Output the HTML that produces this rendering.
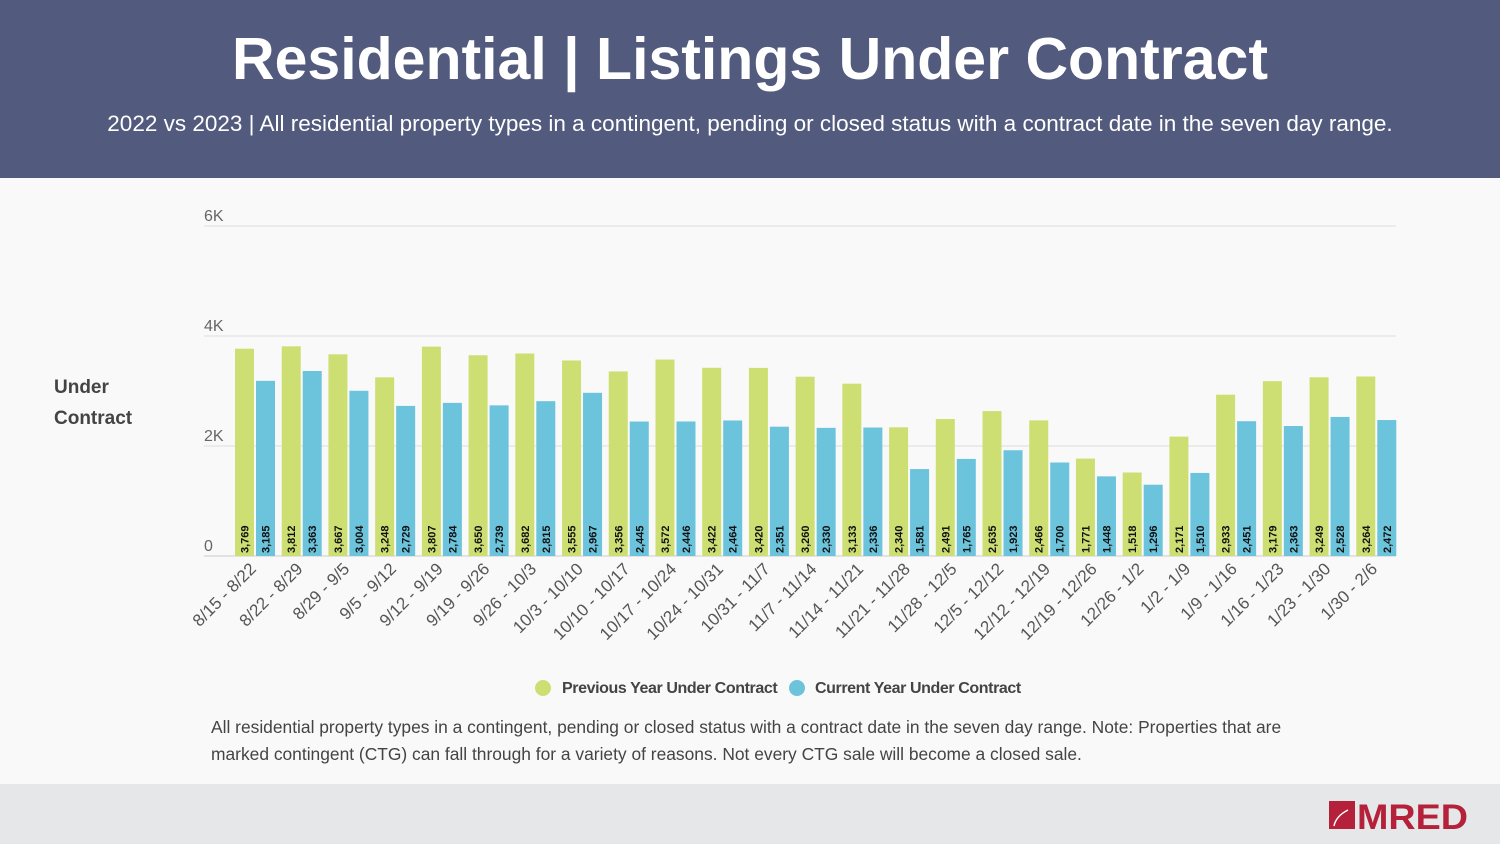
<!DOCTYPE html>
<html><head><meta charset="utf-8"><style>
body{margin:0;width:1500px;height:844px;overflow:hidden;font-family:"Liberation Sans",sans-serif;background:#f9f9f9;position:relative}
#hdr{position:absolute;left:0;top:0;width:1500px;height:178px;background:#525a7d;color:#fff;text-align:center}
#hdr h1{margin:0;position:absolute;top:25px;width:100%;font-size:59px;font-weight:bold}
#hdr p{margin:0;position:absolute;top:111px;width:100%;font-size:22.5px}
#ftr{position:absolute;left:0;top:784px;width:1500px;height:60px;background:#e6e7e8}
#note{position:absolute;left:211px;top:714px;width:1100px;font-size:17.4px;line-height:27px;color:#444}
#ylab{position:absolute;left:54px;top:372px;font-size:19px;font-weight:bold;color:#444;line-height:31px}
</style></head><body>
<div id="hdr">
<h1>Residential | Listings Under Contract</h1>
<p>2022 vs 2023 | All residential property types in a contingent, pending or closed status with a contract date in the seven day range.</p></div>
<div id="ylab">Under<br>Contract</div>
<svg id="chart" width="1500" height="844" style="position:absolute;left:0;top:0"></svg>
<div id="note">All residential property types in a contingent, pending or closed status with a contract date in the seven day range. Note: Properties that are marked contingent (CTG) can fall through for a variety of reasons. Not every CTG sale will become a closed sale.</div>
<div id="ftr">
<svg width="150" height="40" style="position:absolute;left:1326px;top:14px">
<rect x="3" y="3" width="26" height="28" fill="#b5203a"/><path d="M8 28 Q10 18 22 12" stroke="#fff" stroke-width="1.5" fill="none"/>
<text x="31" y="31" font-size="35" font-weight="bold" fill="#b5203a" font-family="Liberation Sans" textLength="111" lengthAdjust="spacingAndGlyphs">MRED</text></svg></div>
<script>
const categories=["8/15 - 8/22","8/22 - 8/29","8/29 - 9/5","9/5 - 9/12","9/12 - 9/19","9/19 - 9/26","9/26 - 10/3","10/3 - 10/10","10/10 - 10/17","10/17 - 10/24","10/24 - 10/31","10/31 - 11/7","11/7 - 11/14","11/14 - 11/21","11/21 - 11/28","11/28 - 12/5","12/5 - 12/12","12/12 - 12/19","12/19 - 12/26","12/26 - 1/2","1/2 - 1/9","1/9 - 1/16","1/16 - 1/23","1/23 - 1/30","1/30 - 2/6"];
const prevYear=[3769,3812,3667,3248,3807,3650,3682,3555,3356,3572,3422,3420,3260,3133,2340,2491,2635,2466,1771,1518,2171,2933,3179,3249,3264];
const currYear=[3185,3363,3004,2729,2784,2739,2815,2967,2445,2446,2464,2351,2330,2336,1581,1765,1923,1700,1448,1296,1510,2451,2363,2528,2472];
const yTicks=[0,2000,4000,6000];
const yTickLabels=["0","2K","4K","6K"];
const svg=document.getElementById('chart');const NS="http://www.w3.org/2000/svg";
const x0=228,x1=1396,yBase=556,yTop=226,yMax=6000;
const step=(x1-x0)/categories.length;
const y=v=>yBase-(v/yMax)*(yBase-yTop);
function mk(t,a){const e=document.createElementNS(NS,t);for(const k in a)e.setAttribute(k,a[k]);svg.appendChild(e);return e;}
yTicks.forEach((t,i)=>{
const l=mk('line',{x1:204,x2:x1,y1:y(t),y2:y(t),stroke:i==0?'#ccc':'#ddd','stroke-width':1});


const tx=mk('text',{x:204,y:y(t)-5,'font-size':16,fill:'#666'});tx.textContent=yTickLabels[i];


});
const fmt=v=>v.toLocaleString('en-US');
categories.forEach((c,i)=>{
const gx=x0+i*step+7;
[[prevYear[i],'#cddf73',0],[currYear[i],'#6cc3dc',21]].forEach(([v,col,off],j)=>{
const bx=gx+off,bw=19;
const r=mk('rect',{x:bx,y:y(v),width:bw,height:yBase-y(v),fill:col});


const t=mk('text',{x:0,y:0,'font-size':11,'font-weight':'bold',fill:'#111',transform:`translate(${bx+bw/2+4},${yBase-3}) rotate(-90)`});
t.textContent=fmt(v);


});
const cx=gx+20;
const lt=mk('text',{x:0,y:0,'font-size':17,fill:'#555','text-anchor':'end',transform:`translate(${cx+2},${yBase+14}) rotate(-45)`});
lt.textContent=c;


});
[[543,'#cddf73','Previous Year Under Contract',562],[797,'#6cc3dc','Current Year Under Contract',815]].forEach(([cx,col,txt,tx])=>{
const c=mk('circle',{cx:cx,cy:688,r:8,fill:col});


const t=mk('text',{x:tx,y:693,'font-size':16,'font-weight':'bold',fill:'#444','letter-spacing':'-0.4'});t.textContent=txt;


});
</script>
</body></html>
